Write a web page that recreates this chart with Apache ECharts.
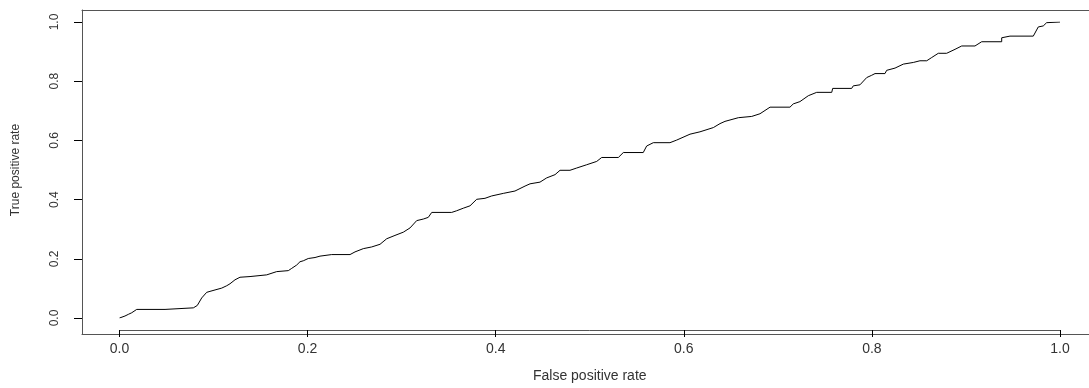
<!DOCTYPE html>
<html>
<head>
<meta charset="utf-8">
<script src="https://cdn.jsdelivr.net/npm/echarts@6/dist/echarts.min.js"></script>
<style>
html,body{margin:0;padding:0;background:#fff;overflow:hidden;width:1089px;height:388px;}
#c{width:1098px;height:388px;}
</style>
</head>
<body>
<div id="c"></div>
<script>
// ROC curve points
const fpr = [0.0, 0.0058, 0.0094, 0.013, 0.0183, 0.0484, 0.0494, 0.0785, 0.0827, 0.0874, 0.0927, 0.0962, 0.1026, 0.1087, 0.114, 0.1175, 0.1228, 0.1281, 0.1388, 0.1388, 0.1565, 0.1582, 0.1671, 0.1795, 0.1831, 0.1884, 0.1919, 0.1954, 0.2007, 0.2079, 0.2132, 0.2256, 0.2451, 0.2504, 0.2592, 0.2681, 0.277, 0.2841, 0.2929, 0.3018, 0.3089, 0.316, 0.323, 0.3283, 0.332, 0.3532, 0.3585, 0.3656, 0.3727, 0.3798, 0.3886, 0.3957, 0.4081, 0.4205, 0.4312, 0.4365, 0.4471, 0.4542, 0.4631, 0.4684, 0.479, 0.4861, 0.4967, 0.5074, 0.5127, 0.5304, 0.5357, 0.5569, 0.5605, 0.5676, 0.5853, 0.5924, 0.6066, 0.6172, 0.6314, 0.6385, 0.6438, 0.658, 0.6722, 0.681, 0.6917, 0.7129, 0.7164, 0.7235, 0.7324, 0.7413, 0.7573, 0.7583, 0.7785, 0.7802, 0.7873, 0.7945, 0.7998, 0.8033, 0.8139, 0.8157, 0.8246, 0.8334, 0.844, 0.8511, 0.8583, 0.8636, 0.8706, 0.8795, 0.8884, 0.8955, 0.9096, 0.9167, 0.938, 0.938, 0.9468, 0.9716, 0.9769, 0.9822, 0.9858, 1.0];
const tpr = [0.0, 0.0067, 0.0123, 0.0177, 0.029, 0.029, 0.0343, 0.0343, 0.0423, 0.0677, 0.0867, 0.09, 0.0957, 0.101, 0.109, 0.1157, 0.129, 0.1377, 0.14, 0.1457, 0.1457, 0.151, 0.1567, 0.16, 0.1677, 0.179, 0.19, 0.1933, 0.201, 0.2043, 0.209, 0.2143, 0.2143, 0.2233, 0.2343, 0.24, 0.249, 0.2677, 0.279, 0.29, 0.3043, 0.329, 0.3343, 0.34, 0.3567, 0.3567, 0.3623, 0.371, 0.379, 0.401, 0.4043, 0.4123, 0.421, 0.429, 0.4457, 0.4533, 0.459, 0.4733, 0.4843, 0.499, 0.499, 0.5067, 0.5177, 0.529, 0.5423, 0.5423, 0.559, 0.559, 0.581, 0.5923, 0.5923, 0.601, 0.621, 0.629, 0.6433, 0.6567, 0.6643, 0.6767, 0.681, 0.69, 0.7123, 0.7123, 0.7233, 0.731, 0.751, 0.7623, 0.7623, 0.7757, 0.7757, 0.7843, 0.7877, 0.8123, 0.82, 0.8257, 0.8257, 0.8367, 0.8443, 0.8577, 0.8633, 0.869, 0.869, 0.88, 0.8943, 0.8943, 0.9077, 0.919, 0.919, 0.9333, 0.9333, 0.9467, 0.9523, 0.9523, 0.9833, 0.9867, 0.9977, 1.0];
const axisMin = 0, axisMax = 1, axisStep = 0.2;
const xTitle = 'False positive rate';
const yTitle = 'True positive rate';

const chart = echarts.init(document.getElementById('c'), null, {renderer: 'canvas'});
const points = fpr.map((x, i) => [x, tpr[i]]);
const fmt = v => v.toFixed(1);
const font = 'Liberation Sans, Arial, sans-serif';
const frameLine = {show: true, onZero: false, lineStyle: {color: '#555', width: 1}};
function frameAxis(pos) {
  return {type: 'value', min: 0, max: 1, gridIndex: 1, position: pos,
    axisLine: frameLine, axisTick: {show: false}, axisLabel: {show: false}, splitLine: {show: false}};
}
chart.setOption({
  animation: false,
  backgroundColor: '#fff',
  grid: [
    {left: 119.5, right: 38, top: 22, bottom: 66, show: false},
    {left: 82, top: 10, bottom: 54, right: 0, show: false}
  ],
  xAxis: [{
    type: 'value', min: axisMin, max: axisMax, interval: axisStep, offset: 12, gridIndex: 0,
    axisLine: {show: true, onZero: false, lineStyle: {color: '#555', width: 1}},
    splitLine: {show: false},
    axisTick: {show: true, length: 7, lineStyle: {color: '#000', width: 1}},
    axisLabel: {show: true, formatter: fmt, margin: 12, fontSize: 14, color: '#333', fontFamily: font},
    name: xTitle, nameLocation: 'middle', nameGap: 39,
    nameTextStyle: {fontSize: 14, color: '#333', fontFamily: font}
  }, frameAxis('bottom'), frameAxis('top')],
  yAxis: [{
    type: 'value', min: axisMin, max: axisMax, interval: axisStep, offset: 37.5, gridIndex: 0,
    axisLine: {show: true, onZero: false, lineStyle: {color: '#555', width: 1}},
    splitLine: {show: false},
    axisTick: {show: true, length: 8, lineStyle: {color: '#000', width: 1}},
    axisLabel: {show: true, formatter: fmt, rotate: 90, margin: 21, fontSize: 12, color: '#333', fontFamily: font},
    name: yTitle, nameLocation: 'middle', nameGap: 60, nameRotate: 90,
    nameTextStyle: {fontSize: 12, color: '#333', fontFamily: font}
  }, frameAxis('left'), frameAxis('right')],
  series: [{
    type: 'line', data: points, symbol: 'none', xAxisIndex: 0, yAxisIndex: 0,
    lineStyle: {color: '#000', width: 1}
  }]
});
</script>
</body>
</html>
